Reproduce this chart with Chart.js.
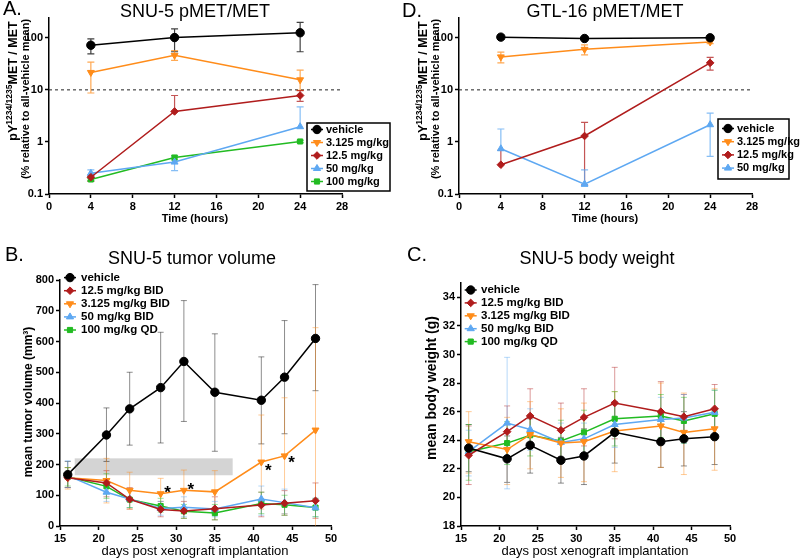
<!DOCTYPE html>
<html>
<head>
<meta charset="utf-8">
<script src="https://cdn.jsdelivr.net/npm/chart.js@4.4.1/dist/chart.umd.min.js"></script>
<style>
html, body { margin: 0; padding: 0; background: #fff; }
#wrap { position: relative; width: 800px; height: 558px; overflow: hidden; }
canvas { position: absolute; }
</style>
</head>
<body>
<div id="wrap">
    <canvas id="chartA" width="400" height="240" style="left:0;top:0"></canvas>
    <canvas id="chartD" width="400" height="240" style="left:400px;top:0"></canvas>
    <canvas id="chartB" width="400" height="318" style="left:0;top:240px"></canvas>
    <canvas id="chartC" width="400" height="318" style="left:400px;top:240px"></canvas>
</div>
<script>
// --- A. SNU-5 pMET/MET (hours) ---
const hours = [4, 12, 24];
const hourTicks = [0, 4, 8, 12, 16, 20, 24, 28];
const logTicks = [0.1, 1, 10, 100];
const snuVehicle = [72, 101, 125];
const snuVehicleErr = [[49, 95], [54, 149], [54, 197]];
const snu3125 = [21.6, 46, 15.6];
const snu3125Err = [[8.7, 34], [37, 57], [9.8, 24]];
const snu125 = [0.21, 3.85, 7.8];
const snu125Err = [[0.175, 0.23], [3.85, 7.8], [6.0, 9.7]];
const snu50 = [0.25, 0.41, 1.96];
const snu50Err = [[0.22, 0.29], [0.28, 0.52], [1.96, 4.7]];
const snu100 = [0.19, 0.50, 1.02];
const snu100Err = [[0.18, 0.2], [0.45, 0.55], [0.97, 1.07]];

// --- D. GTL-16 pMET/MET ---
const gtlVehicle = [103, 97, 100];
const gtlVehicleErr = [[94, 112], [95, 99], [95, 105]];
const gtl3125 = [43, 60, 83];
const gtl3125Err = [[33, 53], [47, 73], [77, 89]];
const gtl125 = [0.365, 1.3, 33];
const gtl125Err = [[0.365, 0.69], [0.15, 2.37], [24, 42]];
const gtl50 = [0.74, 0.155, 2.14];
const gtl50Err = [[0.74, 1.77], [0.14, 0.29], [0.53, 3.58]];

// --- B. tumor volume / C. body weight (days) ---
const days = [16, 21, 24, 28, 31, 35, 41, 44, 48];
const dayTicks = [15, 20, 25, 30, 35, 40, 45, 50];
const volTicks = [0, 100, 200, 300, 400, 500, 600, 700, 800];
const volVehicle = [167, 296, 381, 450, 535, 435, 409, 484, 610];
const volVehicleErr = [[125, 210], [210, 384], [263, 500], [270, 630], [340, 733], [243, 625], [267, 550], [300, 668], [440, 785]];
const vol125 = [157, 140, 87, 54, 49, 56, 68, 74, 82];
const vol125Err = [[125, 190], [95, 180], [55, 125], [30, 80], [25, 80], [20, 95], [30, 110], [35, 115], [25, 140]];
const vol3125 = [157, 148, 116, 105, 116, 111, 208, 228, 312];
const vol3125Err = [[120, 190], [75, 220], [55, 175], [55, 155], [50, 182], [40, 180], [55, 361], [40, 417], [0, 645]];
const vol50 = [164, 110, 88, 57, 61, 55, 88, 76, 59];
const vol50Err = [[125, 212], [80, 140], [60, 120], [35, 80], [30, 95], [30, 80], [35, 130], [40, 120], [30, 90]];
const vol100 = [160, 129, 86, 65, 48, 42, 73, 69, 60];
const vol100Err = [[130, 190], [90, 170], [60, 115], [45, 90], [25, 70], [20, 70], [40, 110], [35, 100], [30, 90]];
const dosingDays = [16.9, 37.3];
const dosingBand = [165, 220];
const starDays = [28.9, 31.9, 41.9, 44.9];
const starVols = [118, 128, 189, 214];

const bwTicks = [18, 20, 22, 24, 26, 28, 30, 32, 34];
const bwVehicle = [23.45, 22.7, 23.65, 22.6, 22.9, 24.55, 23.9, 24.1, 24.25];
const bwVehicleErr = [[21.8, 25.1], [21.05, 24.3], [21.7, 25.5], [21.0, 24.2], [20.9, 24.8], [22.4, 26.7], [22.1, 25.6], [22.2, 26.0], [22.3, 26.1]];
const bw125 = [22.95, 24.6, 25.7, 24.7, 25.6, 26.6, 26.0, 25.65, 26.2];
const bw125Err = [[20.9, 25.0], [22.8, 26.4], [23.8, 27.6], [22.8, 26.6], [23.6, 27.6], [24.1, 29.1], [23.9, 28.1], [24.0, 27.2], [24.4, 27.9]];
const bw3125 = [23.9, 23.35, 24.4, 23.8, 23.9, 24.65, 25.0, 24.55, 24.8];
const bw3125Err = [[21.7, 26.0], [20.9, 25.6], [22.0, 26.7], [21.4, 26.2], [21.1, 26.6], [21.8, 27.4], [22.1, 28.0], [21.6, 27.3], [21.9, 27.6]];
const bw50 = [23.2, 25.2, 24.75, 23.85, 24.1, 25.1, 25.45, 25.55, 25.95];
const bw50Err = [[21.5, 24.7], [20.6, 29.8], [23.3, 26.2], [22.6, 25.2], [23.0, 25.2], [23.5, 26.7], [23.9, 27.0], [23.8, 27.2], [24.4, 27.5]];
const bw100 = [23.2, 23.8, 24.35, 23.95, 24.55, 25.5, 25.7, 25.35, 25.85];
const bw100Err = [[21.2, 25.1], [22.3, 25.3], [22.9, 25.8], [22.6, 25.4], [22.9, 26.1], [23.6, 27.4], [24.2, 27.2], [23.8, 27.0], [24.4, 27.5]];

const FAM = '"Liberation Sans", Arial, Helvetica, sans-serif';
Chart.defaults.font.family = FAM;

// look of each dose group
const STY = {
    veh:  { color: '#000000', err: 'rgba(0,0,0,', shape: 'circle', rot: 0, r: 4.2 },
    d3:   { color: '#ff8c1a', err: 'rgba(255,140,26,', shape: 'triangle', rot: 180, r: 4 },
    d12:  { color: '#b01c1c', err: 'rgba(176,28,28,', shape: 'rectRot', rot: 0, r: 3.8 },
    d50:  { color: '#5ea8f2', err: 'rgba(94,168,242,', shape: 'triangle', rot: 0, r: 4 },
    d100: { color: '#22bb22', err: 'rgba(34,187,34,', shape: 'rect', rot: 0, r: 3.6 }
};

function ds(label, key, xs, ys, errs) {
    const s = STY[key];
    return {
        label: label,
        data: xs.map((x, i) => ({ x: x, y: ys[i] })),
        errs: errs,
        styleKey: key,
        borderColor: s.color,
        backgroundColor: s.color,
        borderWidth: 1.5,
        pointStyle: s.shape,
        pointRotation: s.rot,
        pointRadius: s.r,
        pointBorderWidth: 1,
        pointBorderColor: s.color,
        pointBackgroundColor: s.color,
        tension: 0
    };
}

function axis(type, min, max, ticks, size, fontSize) {
    return {
        type: type,
        min: min,
        max: max,
        afterBuildTicks: s => { s.ticks = ticks.map(v => ({ value: v })); },
        afterFit: s => { if (s.isHorizontal()) s.height = size; else s.width = size; },
        grid: { display: true, drawOnChartArea: false, drawTicks: true, tickLength: 4, tickWidth: 1.5, color: '#000' },
        border: { display: true, color: '#000', width: 1.5 },
        ticks: {
            color: '#000',
            padding: 2,
            autoSkip: false,
            maxRotation: 0,
            font: { family: FAM, size: fontSize, weight: 'bold' },
            callback: v => String(v)
        }
    };
}

function drawMarker(ctx, key, x, y) {
    const s = STY[key];
    const r = s.r;
    ctx.save();
    ctx.fillStyle = s.color;
    ctx.strokeStyle = s.color;
    ctx.lineWidth = 1;
    ctx.translate(x, y);
    ctx.rotate(s.rot * Math.PI / 180);
    ctx.beginPath();
    if (s.shape === 'circle') {
        ctx.arc(0, 0, r, 0, Math.PI * 2);
    } else if (s.shape === 'triangle') {
        const h = r * 1.5;
        ctx.moveTo(0, -r);
        ctx.lineTo(r * 0.9, h - r);
        ctx.lineTo(-r * 0.9, h - r);
        ctx.closePath();
    } else if (s.shape === 'rectRot') {
        ctx.moveTo(0, -r); ctx.lineTo(r, 0); ctx.lineTo(0, r); ctx.lineTo(-r, 0); ctx.closePath();
    } else {
        const a = r * 0.72;
        ctx.rect(-a, -a, 2 * a, 2 * a);
    }
    ctx.fill();
    ctx.stroke();
    ctx.restore();
}

function drawText(ctx, t) {
    ctx.save();
    ctx.fillStyle = '#000';
    ctx.font = (t.bold ? 'bold ' : '') + t.size + 'px ' + FAM;
    ctx.textAlign = t.align || 'center';
    ctx.textBaseline = 'middle';
    ctx.translate(t.x, t.y);
    if (t.rot) ctx.rotate(-Math.PI / 2);
    ctx.fillText(t.t, 0, 0);
    ctx.restore();
}

// y title "pY^1234/1235 MET / MET" with a raised part
function drawSupTitle(ctx, cx, cy) {
    const parts = [
        { t: 'pY', size: 12.5, dy: 0 },
        { t: '1234/1235', size: 8.5, dy: -5 },
        { t: 'MET / MET', size: 12.5, dy: 0 }
    ];
    ctx.save();
    ctx.translate(cx, cy);
    ctx.rotate(-Math.PI / 2);
    ctx.fillStyle = '#000';
    ctx.textAlign = 'left';
    ctx.textBaseline = 'alphabetic';
    let w = 0;
    parts.forEach(p => {
        ctx.font = 'bold ' + p.size + 'px ' + FAM;
        p.w = ctx.measureText(p.t).width;
        w += p.w;
    });
    let x = -w / 2;
    parts.forEach(p => {
        ctx.font = 'bold ' + p.size + 'px ' + FAM;
        ctx.fillText(p.t, x, 4.5 + p.dy);
        x += p.w;
    });
    ctx.restore();
}

function drawLegend(ctx, lg) {
    ctx.save();
    if (lg.box) {
        ctx.fillStyle = '#fff';
        ctx.fillRect(lg.box[0], lg.box[1], lg.box[2], lg.box[3]);
        ctx.strokeStyle = '#000';
        ctx.lineWidth = 1.5;
        ctx.strokeRect(lg.box[0], lg.box[1], lg.box[2], lg.box[3]);
    }
    lg.items.forEach((it, i) => {
        const y = lg.y + i * lg.dy;
        ctx.strokeStyle = STY[it[0]].color;
        ctx.lineWidth = 1.5;
        ctx.beginPath();
        ctx.moveTo(lg.mx - 6, y);
        ctx.lineTo(lg.mx + 6, y);
        ctx.stroke();
        drawMarker(ctx, it[0], lg.mx, y);
        drawText(ctx, { t: it[1], x: lg.tx, y: y, size: lg.size, bold: true, align: 'left' });
    });
    ctx.restore();
}

function decor(cfg) {
    return {
        id: 'decor',
        beforeDatasetsDraw(chart) {
            const ctx = chart.ctx;
            const xs = chart.scales.x, ys = chart.scales.y;
            ctx.save();
            if (cfg.shade) {
                const x0 = xs.getPixelForValue(cfg.shade[0][0]);
                const x1 = xs.getPixelForValue(cfg.shade[0][1]);
                const y0 = ys.getPixelForValue(cfg.shade[1][0]);
                const y1 = ys.getPixelForValue(cfg.shade[1][1]);
                ctx.fillStyle = '#d4d4d4';
                ctx.fillRect(x0, y1, x1 - x0, y0 - y1);
            }
            if (cfg.refLine) {
                const y = ys.getPixelForValue(cfg.refLine);
                ctx.strokeStyle = '#222';
                ctx.lineWidth = 1;
                ctx.setLineDash([3, 3]);
                ctx.beginPath();
                ctx.moveTo(chart.chartArea.left, y);
                ctx.lineTo(chart.chartArea.right, y);
                ctx.stroke();
                ctx.setLineDash([]);
            }
            // error bars, behind the lines
            chart.data.datasets.forEach(d => {
                ctx.strokeStyle = STY[d.styleKey].err + cfg.errAlpha + ')';
                ctx.lineWidth = cfg.errWidth;
                d.data.forEach((p, j) => {
                    const lo = d.errs[j][0], hi = d.errs[j][1];
                    const px = xs.getPixelForValue(p.x);
                    const pl = ys.getPixelForValue(Math.max(lo, ys.min));
                    const ph = ys.getPixelForValue(hi);
                    const cap = cfg.cap;
                    ctx.beginPath();
                    ctx.moveTo(px, pl);
                    ctx.lineTo(px, ph);
                    if (lo < p.y && lo > ys.min) { ctx.moveTo(px - cap, pl); ctx.lineTo(px + cap, pl); }
                    if (hi > p.y) { ctx.moveTo(px - cap, ph); ctx.lineTo(px + cap, ph); }
                    ctx.stroke();
                });
            });
            ctx.restore();
        },
        afterDatasetsDraw(chart) {
            const ctx = chart.ctx;
            const xs = chart.scales.x, ys = chart.scales.y;
            if (cfg.stars) {
                cfg.stars[0].forEach((d, i) => {
                    drawText(ctx, { t: '*', x: xs.getPixelForValue(d), y: ys.getPixelForValue(cfg.stars[1][i]) + 3.5, size: 17, bold: true });
                });
            }
            if (cfg.legend) drawLegend(ctx, cfg.legend);
            cfg.texts.forEach(t => drawText(ctx, t));
            if (cfg.sup) drawSupTitle(ctx, cfg.sup[0], cfg.sup[1]);
        }
    };
}

function makeChart(id, datasets, scales, padding, cfg) {
    return new Chart(document.getElementById(id), {
        type: 'line',
        data: { datasets: datasets },
        options: {
            responsive: false,
            animation: false,
            devicePixelRatio: 1,
            layout: { padding: padding },
            plugins: { legend: { display: false }, tooltip: { enabled: false } },
            scales: scales
        },
        plugins: [decor(cfg)]
    });
}

// A
makeChart('chartA', [
    ds('vehicle', 'veh', hours, snuVehicle, snuVehicleErr),
    ds('3.125 mg/kg', 'd3', hours, snu3125, snu3125Err),
    ds('12.5 mg/kg', 'd12', hours, snu125, snu125Err),
    ds('50 mg/kg', 'd50', hours, snu50, snu50Err),
    ds('100 mg/kg', 'd100', hours, snu100, snu100Err)
], {
    x: axis('linear', 0, 28, hourTicks, 20, 11),
    y: axis('logarithmic', 0.1, 240, logTicks, 49, 11)
}, { left: 0, right: 58, top: 18, bottom: 26 }, {
    refLine: 10, errAlpha: 0.75, errWidth: 1.2, cap: 3.5,
    legend: {
        box: [307, 123, 83, 68], mx: 317, tx: 326, y: 129.5, dy: 13, size: 11,
        items: [['veh', 'vehicle'], ['d3', '3.125 mg/kg'], ['d12', '12.5 mg/kg'], ['d50', '50 mg/kg'], ['d100', '100 mg/kg']]
    },
    texts: [
        { t: 'A.', x: 3, y: 9, size: 20, align: 'left' },
        { t: 'SNU-5 pMET/MET', x: 195, y: 12, size: 18 },
        { t: 'Time (hours)', x: 195, y: 219, size: 11, bold: true },
        { t: '(% relative to all-vehicle mean)', x: 25.5, y: 99, size: 11, bold: true, rot: true }
    ],
    sup: [12.5, 81]
});

// D
makeChart('chartD', [
    ds('vehicle', 'veh', hours, gtlVehicle, gtlVehicleErr),
    ds('3.125 mg/kg', 'd3', hours, gtl3125, gtl3125Err),
    ds('12.5 mg/kg', 'd12', hours, gtl125, gtl125Err),
    ds('50 mg/kg', 'd50', hours, gtl50, gtl50Err)
], {
    x: axis('linear', 0, 28, hourTicks, 20, 11),
    y: axis('logarithmic', 0.1, 240, logTicks, 59, 11)
}, { left: 0, right: 48, top: 18, bottom: 26 }, {
    refLine: 10, errAlpha: 0.75, errWidth: 1.2, cap: 3.5,
    legend: {
        box: [318, 119, 71, 60], mx: 328, tx: 337, y: 128.5, dy: 13.2, size: 11,
        items: [['veh', 'vehicle'], ['d3', '3.125 mg/kg'], ['d12', '12.5 mg/kg'], ['d50', '50 mg/kg']]
    },
    texts: [
        { t: 'D.', x: 2, y: 11, size: 20, align: 'left' },
        { t: 'GTL-16 pMET/MET', x: 205, y: 12, size: 18 },
        { t: 'Time (hours)', x: 205, y: 219, size: 11, bold: true },
        { t: '(% relative to all-vehicle mean)', x: 35.5, y: 99, size: 11, bold: true, rot: true }
    ],
    sup: [22.5, 81]
});

// B
makeChart('chartB', [
    ds('vehicle', 'veh', days, volVehicle, volVehicleErr),
    ds('12.5 mg/kg BID', 'd12', days, vol125, vol125Err),
    ds('3.125 mg/kg BID', 'd3', days, vol3125, vol3125Err),
    ds('50 mg/kg BID', 'd50', days, vol50, vol50Err),
    ds('100 mg/kg QD', 'd100', days, vol100, vol100Err)
], {
    x: axis('linear', 15, 50, dayTicks, 20, 11),
    y: axis('linear', 0, 800, volTicks, 60, 11)
}, { left: 0, right: 69, top: 40, bottom: 12 }, {
    shade: [dosingDays, dosingBand], stars: [starDays, starVols],
    errAlpha: 0.45, errWidth: 1, cap: 3,
    legend: {
        mx: 70, tx: 81, y: 37.6, dy: 13.1, size: 11.5,
        items: [['veh', 'vehicle'], ['d12', '12.5 mg/kg BID'], ['d3', '3.125 mg/kg BID'], ['d50', '50 mg/kg BID'], ['d100', '100 mg/kg QD']]
    },
    texts: [
        { t: 'B.', x: 5, y: 15, size: 20, align: 'left' },
        { t: 'SNU-5 tumor volume', x: 192, y: 19, size: 18 },
        { t: 'days post xenograft implantation', x: 195, y: 311, size: 13 },
        { t: 'mean tumor volume (mm\u00b3)', x: 29, y: 162, size: 12, bold: true, rot: true }
    ]
});

// C
makeChart('chartC', [
    ds('vehicle', 'veh', days, bwVehicle, bwVehicleErr),
    ds('12.5 mg/kg BID', 'd12', days, bw125, bw125Err),
    ds('3.125 mg/kg BID', 'd3', days, bw3125, bw3125Err),
    ds('50 mg/kg BID', 'd50', days, bw50, bw50Err),
    ds('100 mg/kg QD', 'd100', days, bw100, bw100Err)
], {
    x: axis('linear', 15, 50, dayTicks, 20, 11),
    y: axis('linear', 18, 35, bwTicks, 61, 11)
}, { left: 0, right: 70, top: 43, bottom: 12 }, {
    errAlpha: 0.45, errWidth: 1, cap: 3,
    legend: {
        mx: 70.7, tx: 81, y: 50, dy: 12.9, size: 11.5,
        items: [['veh', 'vehicle'], ['d12', '12.5 mg/kg BID'], ['d3', '3.125 mg/kg BID'], ['d50', '50 mg/kg BID'], ['d100', '100 mg/kg QD']]
    },
    texts: [
        { t: 'C.', x: 7, y: 15, size: 20, align: 'left' },
        { t: 'SNU-5 body weight', x: 197, y: 19, size: 18 },
        { t: 'days post xenograft implantation', x: 195, y: 311, size: 13 },
        { t: 'mean body weight (g)', x: 32, y: 148, size: 14, bold: true, rot: true }
    ]
});
</script>
</body>
</html>
